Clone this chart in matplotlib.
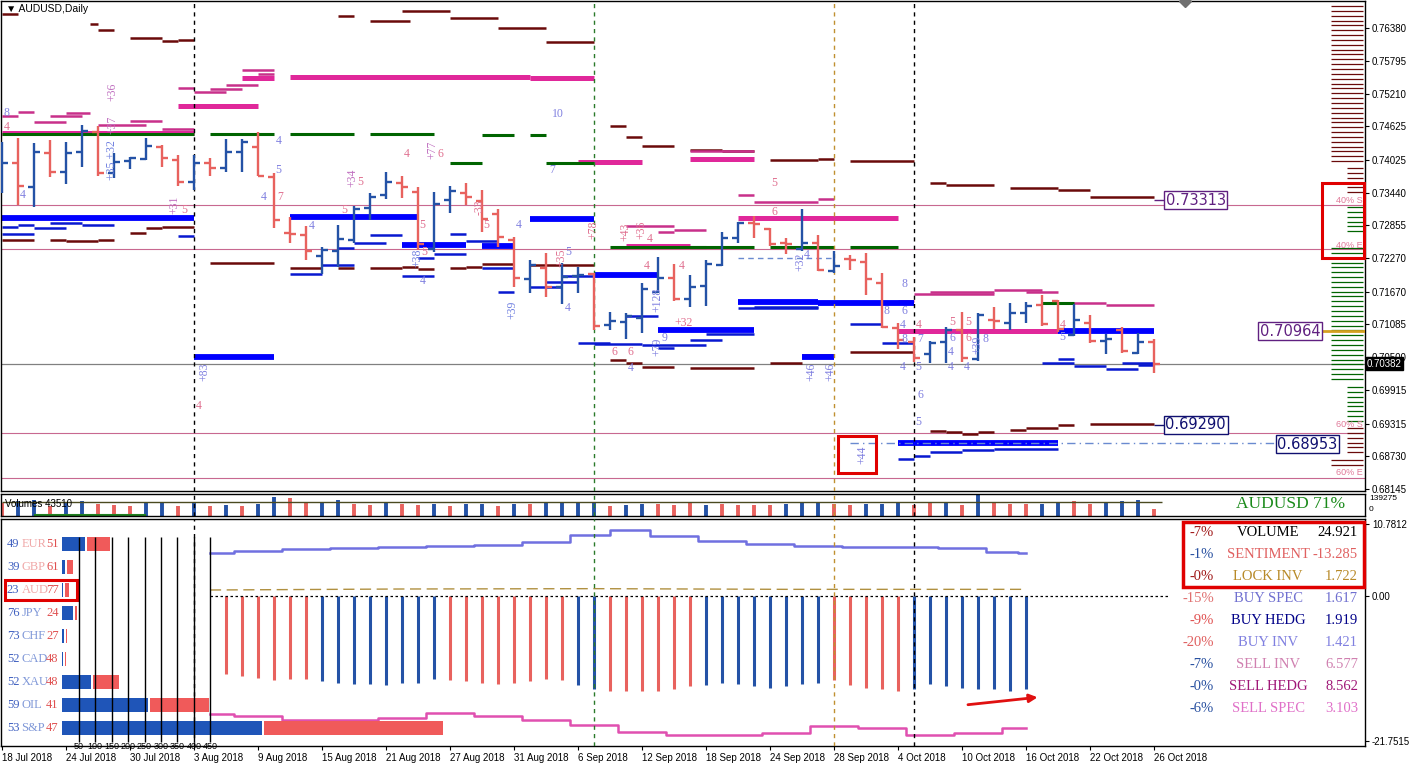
import numpy as np
import pandas as pd
import matplotlib
matplotlib.use("Agg")
import matplotlib.pyplot as plt
from matplotlib.patches import Rectangle
from matplotlib.transforms import blended_transform_factory

W, H = 1409, 770

# ---------------- price data (AUDUSD daily) ----------------
dates = pd.bdate_range("2018-07-18", periods=73)
opens = [0.73755, 0.73969, 0.73540, 0.74147, 0.73808, 0.74165, 0.74523, 0.73790, 0.74005, 0.74040,
         0.74255, 0.74022, 0.73630, 0.73969, 0.73880, 0.74165, 0.74255, 0.73719, 0.72719, 0.72683,
         0.72308, 0.72397, 0.72594, 0.73165, 0.73397, 0.73612, 0.73451, 0.72433, 0.73308, 0.73433,
         0.73290, 0.73058, 0.72594, 0.71897, 0.72094, 0.71754, 0.71951, 0.71986, 0.71076, 0.71129,
         0.71201, 0.71665, 0.71915, 0.71540, 0.71772, 0.72147, 0.72629, 0.72897, 0.72790, 0.72540,
         0.72433, 0.72540, 0.72040, 0.72254, 0.72201, 0.71826, 0.71022, 0.70772, 0.70557, 0.70772,
         0.70986, 0.70468, 0.71165, 0.71112, 0.71290, 0.71433, 0.71504, 0.70897, 0.71112, 0.70790,
         0.70986, 0.70575, 0.70772]
highs = [0.74344, 0.74415, 0.74326, 0.74380, 0.74344, 0.74648, 0.74630, 0.74147, 0.74076, 0.74415,
         0.74290, 0.74112, 0.74112, 0.74058, 0.74397, 0.74397, 0.74523, 0.73790, 0.73004, 0.72844,
         0.72469, 0.72862, 0.73201, 0.73433, 0.73808, 0.73737, 0.73540, 0.73451, 0.73558, 0.73612,
         0.73487, 0.73147, 0.72647, 0.72236, 0.72362, 0.72183, 0.72111, 0.72004, 0.71308, 0.71290,
         0.71826, 0.72290, 0.72165, 0.71969, 0.72236, 0.72737, 0.72915, 0.73022, 0.72808, 0.72629,
         0.73147, 0.72683, 0.72397, 0.72326, 0.72362, 0.72004, 0.71112, 0.70861, 0.70790, 0.71040,
         0.71308, 0.71290, 0.71397, 0.71469, 0.71486, 0.71611, 0.71522, 0.71451, 0.71254, 0.70915,
         0.71040, 0.70933, 0.70825]
lows = [0.73433, 0.73219, 0.73183, 0.73719, 0.73594, 0.73897, 0.73737, 0.73701, 0.73862, 0.74022,
        0.73897, 0.73558, 0.73487, 0.73737, 0.73808, 0.73808, 0.73737, 0.72808, 0.72540, 0.72236,
        0.71986, 0.72111, 0.72540, 0.72951, 0.73326, 0.73344, 0.72415, 0.72379, 0.73076, 0.73219,
        0.72737, 0.72469, 0.71754, 0.71647, 0.71576, 0.71451, 0.71647, 0.70986, 0.70986, 0.70825,
        0.70933, 0.71647, 0.71504, 0.71397, 0.71415, 0.72129, 0.72540, 0.72629, 0.72486, 0.72344,
        0.72397, 0.72040, 0.72004, 0.72058, 0.71611, 0.71022, 0.70647, 0.70415, 0.70397, 0.70397,
        0.70415, 0.70433, 0.71004, 0.70986, 0.71112, 0.71058, 0.70951, 0.70879, 0.70754, 0.70557,
        0.70575, 0.70557, 0.70218]
closes = [0.73969, 0.73558, 0.74165, 0.73808, 0.74147, 0.74540, 0.73790, 0.73987, 0.74058, 0.74272,
          0.74058, 0.73630, 0.73969, 0.73880, 0.74165, 0.74344, 0.73737, 0.72951, 0.72701, 0.72397,
          0.72415, 0.72612, 0.73147, 0.73362, 0.73630, 0.73540, 0.72522, 0.73237, 0.73469, 0.73362,
          0.72969, 0.72647, 0.71915, 0.72147, 0.71754, 0.71933, 0.71969, 0.71058, 0.71147, 0.71237,
          0.71719, 0.71915, 0.71540, 0.71754, 0.72165, 0.72629, 0.72897, 0.72879, 0.72522, 0.72522,
          0.72540, 0.72058, 0.72129, 0.72236, 0.71897, 0.71040, 0.70808, 0.70486, 0.70754, 0.70986,
          0.70486, 0.71254, 0.71147, 0.71290, 0.71415, 0.71094, 0.71004, 0.71165, 0.70790, 0.70825,
          0.70611, 0.70772, 0.70382]
last_price = 0.70382

price_ticks = [0.76380, 0.75795, 0.75210, 0.74625, 0.74025, 0.73440, 0.72855, 0.72270,
               0.71670, 0.71085, 0.70500, 0.69915, 0.69315, 0.68730, 0.68145]

# volume strip
volumes = [60, 70, 75, 45, 65, 70, 55, 50, 45, 60,
           65, 45, 60, 45, 50, 45, 55, 85, 80, 60,
           65, 75, 55, 50, 60, 55, 50, 55, 45, 55,
           55, 45, 55, 55, 60, 60, 60, 65, 45, 50,
           55, 55, 50, 60, 50, 55, 50, 50, 50, 55,
           60, 60, 55, 50, 55, 55, 60, 50, 60, 65,
           50, 110, 60, 55, 55, 55, 60, 70, 55, 60,
           70, 75, 30]
volume_dir = "rbbrbbrrrbbrbrbrbbrrbbrrbrrbrbbrbrbbbbrbbrrrbrrrrbbbrrbbbrrbrbrrrbbrrbbbr"

# order levels: (from bar, to bar, price)
maroon_levels = [(0, 1, 0.76630), (5.5, 6, 0.76451), (6, 7, 0.76344), (8, 10, 0.76201), (10, 11, 0.76148),
                 (11, 12, 0.76166), (21, 22, 0.76594), (23, 25.5, 0.76505), (25, 28, 0.76684),
                 (28, 31, 0.76559), (31, 34, 0.76380), (34, 37, 0.76130),
                 (38, 39, 0.74630), (39, 40, 0.74433), (40, 42, 0.74272), (43, 45, 0.74201), (45, 47, 0.74183),
                 (48, 51, 0.74022), (51, 52, 0.74040), (53, 57, 0.74005), (58, 59, 0.73612), (59, 62, 0.73576),
                 (63, 66, 0.73523), (66, 68, 0.73487), (68, 72, 0.73362),
                 (0, 2, 0.72594), (3, 4, 0.72594), (4, 6, 0.72576), (6, 7, 0.72594), (8, 9, 0.72719),
                 (9, 10, 0.72808), (10, 12, 0.72826), (13, 17, 0.72183), (18, 20, 0.72094), (21, 22, 0.72094),
                 (23, 25, 0.72094), (25, 26, 0.72111), (26, 27, 0.72076), (28, 29, 0.72094), (29, 30, 0.72111),
                 (30, 32, 0.72165), (33, 37, 0.72147),
                 (38, 39, 0.70450), (39, 40, 0.70397), (40, 42, 0.70325), (43, 47, 0.70307), (48, 50, 0.70397),
                 (50, 52, 0.70540), (53, 57, 0.70593), (58, 59, 0.69182), (59, 60, 0.69164), (60, 61, 0.69129),
                 (61, 62, 0.69164), (63, 64, 0.69200), (64, 66, 0.69236), (66, 67, 0.69290), (68, 72, 0.69307)]
magenta_thin = [(0, 1, 0.74808), (1, 2, 0.74880), (2, 4, 0.74701), (3, 5, 0.74808), (4, 5.5, 0.74862),
                (6, 9, 0.74648), (8, 10, 0.74719), (10, 12, 0.74576), (11, 12, 0.75308), (12, 14, 0.75237),
                (13, 15, 0.75290), (14, 16, 0.75362), (15, 17, 0.75630), (16, 17, 0.75558),
                (43, 47, 0.74183), (46, 47, 0.73397), (47, 51, 0.73272), (51, 52, 0.73326),
                (39, 42, 0.72844), (42, 44, 0.72772), (41, 42, 0.72737),
                (57, 62, 0.71629), (58, 62, 0.71665), (62, 65, 0.71701), (64, 66, 0.71665),
                (66, 69, 0.71469), (69, 72, 0.71433), (56, 57, 0.71504)]
magenta_thick = [(0, 12, 0.74505), (11, 16, 0.74987), (15, 17, 0.75487), (18, 33, 0.75505), (33, 37, 0.75487),
                 (36, 40, 0.73987), (43, 47, 0.74040), (46, 56, 0.72987), (39, 43, 0.72486), (56, 66, 0.70968)]
blue_thick = [(0, 12, 0.72987), (18, 26, 0.73004), (33, 37, 0.72969), (12, 17, 0.70504), (25, 29, 0.72504),
              (30, 32, 0.72486), (37, 41, 0.71969), (41, 47, 0.70986), (46, 51, 0.71486), (51, 57, 0.71469),
              (50, 52, 0.70504), (66, 72, 0.70968), (56, 66, 0.68968)]
blue_thin = [(0, 1, 0.72826), (1, 2, 0.72862), (2, 4, 0.72808), (3, 5, 0.72897), (5, 7, 0.72862),
             (0, 2, 0.72701), (11, 12, 0.72665), (18, 20, 0.71986), (20, 22, 0.72147), (21, 22, 0.72451),
             (22, 24, 0.72540), (23, 25, 0.72683), (26, 27, 0.72272), (27, 29, 0.72344), (25, 27, 0.71951),
             (28, 29, 0.72701), (29, 31, 0.72576), (30, 32, 0.72094), (31, 32, 0.71665), (33, 35, 0.71754),
             (34, 36, 0.71843), (35, 37, 0.71951), (36, 38, 0.70754), (37, 40, 0.70736), (40, 44, 0.70718),
             (39, 41, 0.71237), (44, 47, 0.70915), (43, 45, 0.70808), (46, 51, 0.71379), (47, 51, 0.71397),
             (53, 55, 0.71094), (55, 57, 0.70754), (65, 67, 0.70397), (66, 67, 0.70468), (67, 69, 0.70343),
             (69, 71, 0.70290), (70, 72, 0.70397), (71, 72, 0.70361), (56, 57, 0.68682), (57, 58, 0.68736),
             (58, 60, 0.68807), (60, 62, 0.68843), (62, 66, 0.68861), (41, 42, 0.70665)]
green_levels = [(0, 12, 0.74487), (13, 17, 0.74487), (18, 22, 0.74487), (23, 27, 0.74487), (30, 32, 0.74469),
                (33, 34, 0.74469), (28, 30, 0.73969), (34, 37, 0.73969), (38, 44, 0.72469), (43, 47, 0.72469),
                (48, 52, 0.72469), (53, 56, 0.72469), (65, 67, 0.71469)]

# the little signal numbers on the chart: (bar, price, text, colour, rotation)
notes = [(0.1, 0.74862, "8", "#8080e0", 0), (0.1, 0.74612, "4", "#e07090", 0),
         (6.5, 0.75237, "+36", "#c070c0", 90), (6.5, 0.74648, "+37", "#c070c0", 90),
         (6.5, 0.74022, "+35 +32", "#7080e0", 90), (1.1, 0.73397, "4", "#8080e0", 0),
         (10.4, 0.73219, "+31", "#c070c0", 90), (11.2, 0.73130, "5", "#e07090", 0),
         (17.1, 0.74362, "4", "#8080e0", 0), (17.1, 0.73844, "5", "#8080e0", 0),
         (16.2, 0.73362, "4", "#8080e0", 0), (17.2, 0.73362, "7", "#e07090", 0),
         (21.5, 0.73701, "+34", "#c070c0", 90), (22.2, 0.73630, "5", "#e07090", 0),
         (21.2, 0.73130, "5", "#e07090", 0), (19.2, 0.72844, "4", "#8080e0", 0),
         (25.1, 0.74130, "4", "#e07090", 0), (26.5, 0.74201, "+77", "#c070c0", 90),
         (27.2, 0.74130, "6", "#e07090", 0), (34.4, 0.74844, "10", "#8080e0", 0),
         (34.2, 0.73844, "7", "#8080e0", 0), (26.1, 0.72862, "5", "#e07090", 0),
         (25.6, 0.72272, "+38", "#7080e0", 90), (26.2, 0.72379, "5", "#e07090", 0),
         (26.1, 0.71861, "4", "#8080e0", 0), (29.5, 0.73183, "-33", "#e07090", 90),
         (30.1, 0.72862, "5", "#e07090", 0), (32.1, 0.72862, "4", "#8080e0", 0),
         (31.5, 0.71343, "+39", "#7080e0", 90), (34.6, 0.72272, "+35", "#e07090", 90),
         (35.2, 0.72379, "5", "#8080e0", 0), (35.2, 0.71379, "4", "#8080e0", 0),
         (36.6, 0.72772, "+78", "#e07090", 90), (38.6, 0.72737, "+43", "#e07090", 90),
         (39.6, 0.72772, "+36", "#e07090", 90), (40.3, 0.72612, "4", "#e07090", 0),
         (40.1, 0.72129, "4", "#e07090", 0), (42.3, 0.72129, "4", "#e07090", 0),
         (40.6, 0.71522, "+128", "#8080e0", 90), (42.0, 0.71112, "+32", "#e07090", 0),
         (40.6, 0.70683, "+79", "#8080e0", 90), (41.2, 0.70843, "9", "#8080e0", 0),
         (38.1, 0.70593, "6", "#e07090", 0), (39.1, 0.70593, "6", "#e07090", 0),
         (39.1, 0.70307, "4", "#8080e0", 0), (48.1, 0.73612, "5", "#e07090", 0),
         (48.1, 0.73094, "6", "#e07090", 0), (49.5, 0.72201, "+32", "#8080e0", 90),
         (50.1, 0.72326, "4", "#8080e0", 0), (50.2, 0.70236, "+46", "#8080e0", 90),
         (51.4, 0.70236, "+46", "#8080e0", 90), (56.2, 0.71808, "8", "#8080e0", 0),
         (55.1, 0.71325, "8", "#8080e0", 0), (56.2, 0.71325, "6", "#8080e0", 0),
         (56.1, 0.71076, "4", "#8080e0", 0), (57.1, 0.71076, "4", "#e07090", 0),
         (56.2, 0.70825, "8", "#8080e0", 0), (57.2, 0.70825, "7", "#8080e0", 0),
         (56.1, 0.70325, "4", "#8080e0", 0), (57.1, 0.70325, "5", "#8080e0", 0),
         (57.2, 0.69825, "6", "#8080e0", 0), (57.1, 0.69343, "5", "#8080e0", 0),
         (59.2, 0.71129, "5", "#e07090", 0), (59.2, 0.70843, "6", "#8080e0", 0),
         (59.1, 0.70593, "4", "#8080e0", 0), (59.1, 0.70325, "4", "#8080e0", 0),
         (60.2, 0.71129, "5", "#e07090", 0), (60.2, 0.70843, "6", "#e07090", 0),
         (60.1, 0.70325, "4", "#8080e0", 0), (60.6, 0.70718, "+39", "#8080e0", 90),
         (61.3, 0.70825, "8", "#8080e0", 0), (66.1, 0.71076, "4", "#e07090", 0),
         (66.1, 0.70861, "5", "#8080e0", 0), (53.4, 0.68754, "+44", "#8080e0", 90),
         (12.3, 0.70236, "+83", "#8080e0", 90), (12.1, 0.69629, "4", "#e07090", 0)]

# lower indicator panel
hist_bars = list(range(14, 65))
hist_vals = [-11.7, -12.0, -12.3, -12.6, -12.5, -12.4, -12.8, -13.0, -13.2, -13.2,
             -13.3, -13.0, -13.0, -12.5, -12.6, -12.8, -13.0, -13.2, -13.0, -12.8,
             -12.4, -12.6, -13.4, -14.0, -14.2, -14.3, -14.3, -14.2, -14.0, -13.5,
             -13.3, -13.0, -13.2, -13.5, -13.8, -13.5, -13.2, -13.0, -12.6, -13.4,
             -13.8, -14.0, -14.2, -14.0, -13.2, -13.5, -13.8, -14.0, -14.0, -14.2, -14.0]
hist_dir = "rrrrrrbbbbbbbbrrrrrrrrbbrrrrrrbbbbbbbbrrrrrbbbbbbbb"
vol_line_x = [13, 16, 19, 22, 25, 28, 31, 34, 37, 39, 42, 45, 48, 51, 54, 57, 60, 63, 64]
vol_line_y = [6.45, 6.75, 7.05, 7.2, 7.35, 7.5, 7.65, 8.1, 9.15, 9.9, 9.0, 8.25, 7.8, 7.5, 7.35, 7.35,
              7.2, 6.6, 6.45]
sent_line_x = [13, 16, 19, 22, 25, 28, 31, 34, 37, 40, 43, 46, 49, 52, 55, 58, 61, 64]
sent_line_y = [-17.7, -18.0, -18.6, -18.6, -18.3, -17.55, -18.0, -18.6, -19.35, -20.4, -20.85,
               -20.85, -20.55, -19.5, -19.8, -20.85, -20.55, -19.8]
lock_line_x = [13, 25, 37, 49, 64]
lock_line_y = [0.9, 1.05, 1.1, 1.0, 1.0]

# currency strength table
cur_names = ["EUR", "GBP", "AUD", "JPY", "CHF", "CAD", "XAU", "OIL", "S&P"]
cur_long = [49, 39, 23, 76, 73, 52, 52, 59, 53]
cur_short = [51, 61, 77, 24, 27, 48, 48, 41, 47]
cur_buy = [70, 9, 4, 33, 6, 3, 88, 261, 606]
cur_sell = [70, 18, 12, 6, 3, 3, 79, 179, 542]
cur_grid = [50, 100, 150, 200, 250, 300, 350, 400, 450]

# trader groups summary
grp_pct = ["-7%", "-1%", "-0%", "-15%", "-9%", "-20%", "-7%", "-0%", "-6%"]
grp_name = ["VOLUME", "SENTIMENT", "LOCK INV", "BUY SPEC", "BUY HEDG", "BUY INV", "SELL INV",
            "SELL HEDG", "SELL SPEC"]
grp_val = ["24.921", "-13.285", "1.722", "1.617", "1.919", "1.421", "6.577", "8.562", "3.103"]
grp_pct_col = ["#a01818", "#2850a0", "#a01818", "#e07070", "#e05050", "#e06060", "#2850a0", "#2850a0",
               "#2850a0"]
grp_col = ["#000000", "#e06060", "#b88a28", "#7070d0", "#000088", "#8080e0", "#d080b0", "#a01878",
           "#e070c8"]

BLUE, RED = "#2452a6", "#e8625e"
MAROON, MAGENTA, LBLUE, GREEN = "#6a0a0a", "#e0289a", "#0000ff", "#006400"
PINK = "#c86890"
AXFONT = "Liberation Sans"

fig = plt.figure(figsize=(W / 100, H / 100), dpi=100)


def px_axes(x0, y0, x1, y1):
    return fig.add_axes([x0 / W, 1 - y1 / H, (x1 - x0) / W, (y1 - y0) / H])


ax = px_axes(1, 1, 1365, 491)
axv = px_axes(1, 494, 1365, 516)
axl = px_axes(1, 519, 1365, 746)
XL = (-0.0625, 85.1875)
for a in (ax, axv, axl):
    a.set_xlim(*XL)
    for s in a.spines.values():
        s.set_linewidth(1.0)
    a.tick_params(axis="both", labelsize=7, length=3, width=0.8, pad=2, labelfontfamily=AXFONT)

ax.set_ylim(0.68111, 0.76862)
bars = np.arange(len(dates))

# horizontal reference lines
for p in [0.73219, 0.72433, 0.69147, 0.68343]:
    ax.axhline(p, color=PINK, lw=0.8, zorder=1)
ax.axhline(last_price, color="#808080", lw=0.9, zorder=1)

# order levels
for x0, x1, p in maroon_levels:
    ax.hlines(p, x0, x1, color=MAROON, lw=1.8, zorder=2)
for x0, x1, p in magenta_thin:
    ax.hlines(p, x0, x1, color="#c8308a", lw=1.8, zorder=2)
for x0, x1, p in magenta_thick:
    ax.hlines(p, x0, x1, color=MAGENTA, lw=3.6, zorder=2)
for x0, x1, p in blue_thin:
    ax.hlines(p, x0, x1, color="#0818d0", lw=1.8, zorder=2)
for x0, x1, p in blue_thick:
    ax.hlines(p, x0, x1, color=LBLUE, lw=4.2, zorder=2)
for x0, x1, p in green_levels:
    ax.hlines(p, x0, x1, color=GREEN, lw=2.2, zorder=2)
ax.hlines(0.72272, 46, 52, color="#6a8ad0", lw=1, ls=(0, (4, 3)), zorder=2)
ax.hlines(0.68968, 53, 79.8, color="#6a8ad0", lw=1, ls=(0, (6, 3, 1, 3)), zorder=2)

# OHLC bars
up = np.array(closes) >= np.array(opens)
bcol = np.where(up, BLUE, RED)
ax.vlines(bars, lows, highs, colors=bcol, lw=1.7, zorder=4)
ax.hlines(opens, bars - 0.36, bars, colors=bcol, lw=1.7, zorder=4)
ax.hlines(closes, bars, bars + 0.36, colors=bcol, lw=1.7, zorder=4)

for x, p, t, c, r in notes:
    ax.text(x, p, t, color=c, fontsize=8.5, family="Liberation Serif", rotation=r,
            ha="left", va="center", zorder=5)

# depth histogram on the right edge
depth_groups = [(0.76773, 0.73950, 83.06, MAROON), (0.73880, 0.73440, 84.06, MAROON),
                (0.73183, 0.72680, 84.06, GREEN), (0.72451, 0.70070, 83.06, GREEN),
                (0.69969, 0.69340, 84.06, GREEN), (0.69236, 0.68750, 84.06, MAROON),
                (0.68665, 0.68570, 83.06, MAROON)]
for top, bot, x0, c in depth_groups:
    lv = np.arange(top, bot, -0.000866)
    ax.hlines(lv, x0, 85.06, color=c, lw=0.9, zorder=2)
ax.hlines(0.70968, 82.4, 85.2, color="#d4a020", lw=2, zorder=3)
for p, t in [(0.73308, "40% S"), (0.72504, "40% E"), (0.69307, "60% S"), (0.68450, "60% E")]:
    ax.text(85.05, p, t, color="#e07898", fontsize=6.5, ha="right", va="center", zorder=5,
            family=AXFONT)

# boxed level labels
box_labels = [(74.6, 0.73308, "0.73313", "#602080", 72, 73.6),
              (80.5, 0.70968, "0.70964", "#602080", 82.4, 82.4),
              (74.6, 0.69290, "0.69290", "#101070", 72, 73.6),
              (81.6, 0.68950, "0.68953", "#101070", 79.8, 79.8)]
for x, p, t, c, c0, c1 in box_labels:
    if c1 > c0:
        ax.hlines(p, c0, c1, color=c, lw=1)
    ax.text(x, p, t, color=c, fontsize=10.5, ha="center", va="center", zorder=6,
            bbox=dict(boxstyle="square,pad=0.12", fc="white", ec=c, lw=1))

# vertical markers through all panels
vlines = [(12, "black"), (37, "#2a7a2a"), (52, "#c09030"), (57, "black")]
for a in (ax, axv, axl):
    for x, c in vlines:
        a.axvline(x, color=c, lw=1, ls=(0, (3, 3)), zorder=3)

ax.yaxis.tick_right()
ax.set_yticks(price_ticks)
ax.set_yticklabels([f"{p:.5f}" for p in price_ticks])
ax.set_xticks([])
trans = blended_transform_factory(ax.transAxes, ax.transData)
ax.text(1.0015, last_price, "0.70382", transform=trans, color="white", fontsize=7, va="center",
        ha="left", family=AXFONT, bbox=dict(boxstyle="square,pad=0.15", fc="black", ec="black"), zorder=7)
ax.text(0.004, 0.984, "\u25BC AUDUSD,Daily", transform=ax.transAxes, fontsize=7.5, va="center",
        family=AXFONT)
ax.plot([73.94], [0.76862], marker="D", color="#707070", ms=6, clip_on=False, zorder=7)

# red highlight boxes
for a, xy, w, h in [(ax, (82.5, 0.72272), 2.6, 0.0134), (ax, (52.25, 0.68432), 2.35, 0.00661)]:
    a.add_patch(Rectangle(xy, w, h, fill=False, ec="#e00000", lw=2.2, zorder=8, clip_on=False))

# ---------------- volume strip ----------------
vcol = [BLUE if d == "b" else RED for d in volume_dir]
axv.vlines(bars, 0, np.array(volumes) * 1000, colors=vcol, lw=2.8)
axv.set_ylim(0, 100000)
axv.hlines(62000, 0, 72.5, color="#4a4a20", lw=1)
axv.hlines(5000, 2, 9, color="#208020", lw=1.5)
axv.set_xticks([])
axv.set_yticks([])
axv.text(0.003, 0.55, "Volumes 43510", transform=axv.transAxes, fontsize=7, va="center",
         family=AXFONT)
axv.text(77.1, 55000, "AUDUSD 71%", color="#1a8a1a", fontsize=12.5, family="Liberation Serif",
         va="center")
axv.text(1.003, 0.78, "139275", transform=axv.transAxes, fontsize=6, va="center", family=AXFONT)
axv.text(1.003, 0.3, "0", transform=axv.transAxes, fontsize=6, va="center", family=AXFONT)

# ---------------- lower indicator panel ----------------
axl.set_ylim(-22.5, 11.55)
hcol = [BLUE if d == "b" else RED for d in hist_dir]
axl.vlines(hist_bars, 0, hist_vals, colors=hcol, lw=2.2)
axl.plot(vol_line_x, vol_line_y, color="#7070e0", lw=1.8, drawstyle="steps-mid")
axl.plot(sent_line_x, sent_line_y, color="#e050b0", lw=1.8, drawstyle="steps-mid")
axl.plot(lock_line_x, lock_line_y, color="#b09040", lw=1, ls=(0, (8, 4)))
axl.hlines(0, 13, 73, color="black", lw=0.9, ls=(0, (2, 2)))
axl.annotate("", xy=(64.9, -15.15), xytext=(60.2, -16.35),
             arrowprops=dict(arrowstyle="-|>", color="#e01010", lw=2, mutation_scale=12))
axl.yaxis.tick_right()
axl.set_yticks([10.7812, 0, -21.7515])
axl.set_yticklabels(["10.7812", "0.00", "-21.7515"])
tick_pos = bars[::4]
axl.set_xticks(tick_pos)
axl.set_xticklabels([f"{d.day} {d.strftime('%b %Y')}" for d in dates[::4]], ha="left")
axl.add_patch(Rectangle((73.8, 1.35), 11.3, 9.75, fill=False, ec="#e00000", lw=2.5, zorder=8,
                        clip_on=False))

# currency table overlay, units on x, rows on y
axc = px_axes(0, 530, 450, 748)
axc.set_xlim(-188, 1176)
axc.set_ylim(8.87, -0.61)
axc.axis("off")
rows = np.arange(len(cur_names))
axc.barh(rows, cur_buy, height=0.57, left=0, color="#1f55b8")
axc.barh(rows, cur_sell, height=0.57, left=np.array(cur_buy) + 6, color="#f05a5a")
axc.vlines(cur_grid, -0.3, 8.6, color="black", lw=1)
for g in cur_grid:
    axc.text(g, 8.62, str(g), fontsize=6.5, ha="center", va="top", family=AXFONT)
for i, name in enumerate(cur_names):
    axc.text(-167, i, str(cur_long[i]), color="#4060c0", fontsize=9, family="Liberation Serif",
             va="center")
    axc.text(-123, i, name, color="#f0a8a8" if i < 3 else "#8098d8", fontsize=9,
             family="Liberation Serif", va="center")
    axc.text(-10, i, str(cur_short[i]), color="#e05050", fontsize=9, family="Liberation Serif",
             va="center", ha="right")
axc.add_patch(Rectangle((-173, 1.57), 218, 0.86, fill=False, ec="#e00000", lw=2.2))

# trader groups table on the right of the lower panel
for k in range(len(grp_name)):
    y = 1 - (532 + 22 * k) / H
    kw = dict(fontsize=10.5, family="Liberation Serif", va="center")
    fig.text(1214 / W, y, grp_pct[k], color=grp_pct_col[k], ha="right", **kw)
    fig.text(1268 / W, y, grp_name[k], color=grp_col[k], ha="center", **kw)
    fig.text(1358 / W, y, grp_val[k], color=grp_col[k], ha="right", **kw)

fig.savefig("out.png", dpi=100, facecolor="white")
